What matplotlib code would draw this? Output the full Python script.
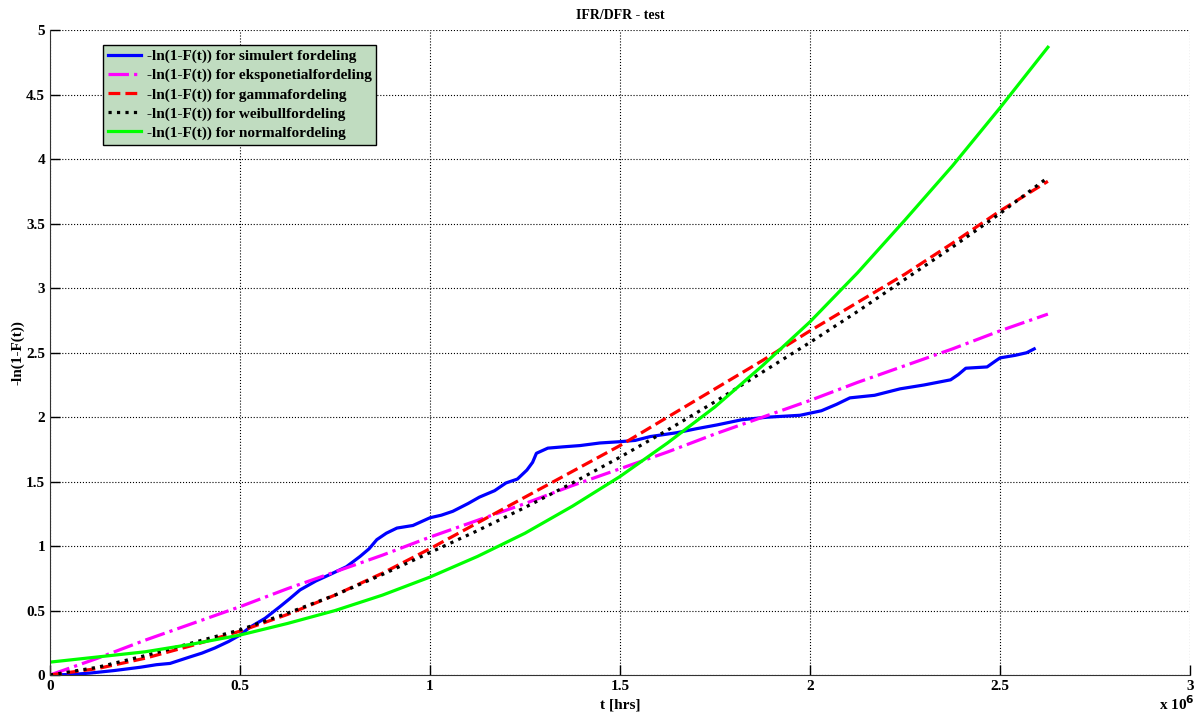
import matplotlib
matplotlib.use('Agg')
import matplotlib.pyplot as plt
import numpy as np

plt.rcParams['font.family'] = ['Liberation Serif', 'DejaVu Serif']
plt.rcParams['font.weight'] = 'bold'

# time in units of 1e6 hrs
t_sim = [0, 0.06, 0.105, 0.17, 0.237, 0.28, 0.316, 0.368, 0.40, 0.434, 0.47, 0.5,
         0.526, 0.566, 0.605, 0.63, 0.658, 0.70, 0.737, 0.78, 0.816, 0.84, 0.86,
         0.885, 0.913, 0.955, 1.0, 1.03, 1.06, 1.10, 1.13, 1.17, 1.20, 1.23, 1.255,
         1.27, 1.28, 1.31, 1.35, 1.395, 1.447, 1.5, 1.54, 1.58, 1.65, 1.70, 1.755,
         1.82, 1.887, 1.974, 2.03, 2.07, 2.105, 2.17, 2.237, 2.30, 2.37, 2.39,
         2.41, 2.466, 2.49, 2.5, 2.54, 2.57, 2.59]
F_sim = [0, 0.005, 0.015, 0.035, 0.06, 0.08, 0.09, 0.14, 0.17, 0.21, 0.26, 0.31,
         0.37, 0.44, 0.53, 0.59, 0.66, 0.73, 0.78, 0.84, 0.92, 0.98, 1.05,
         1.10, 1.14, 1.16, 1.22, 1.24, 1.27, 1.33, 1.38, 1.43, 1.49, 1.52, 1.59,
         1.65, 1.72, 1.76, 1.77, 1.78, 1.80, 1.81, 1.82, 1.85, 1.88, 1.91, 1.94,
         1.98, 2.00, 2.015, 2.05, 2.10, 2.15, 2.17, 2.22, 2.25, 2.29, 2.33,
         2.38, 2.39, 2.44, 2.46, 2.48, 2.50, 2.53]

t_fit = [0, 0.125, 0.25, 0.375, 0.5, 0.625, 0.75, 0.875, 1.0, 1.125, 1.25, 1.375,
         1.5, 1.625, 1.75, 1.875, 2.0, 2.125, 2.25, 2.375, 2.5, 2.626]
F_exp = [0, 0.13, 0.27, 0.40, 0.53, 0.67, 0.80, 0.93, 1.07, 1.20, 1.33, 1.47,
         1.60, 1.73, 1.87, 2.00, 2.13, 2.27, 2.40, 2.53, 2.67, 2.80]
F_gam = [0, 0.05, 0.13, 0.23, 0.34, 0.47, 0.62, 0.79, 0.98, 1.18, 1.38, 1.58,
         1.78, 2.00, 2.22, 2.44, 2.67, 2.89, 3.11, 3.35, 3.60, 3.83]
F_wei = [0, 0.06, 0.15, 0.25, 0.35, 0.48, 0.62, 0.78, 0.95, 1.12, 1.30, 1.49,
         1.69, 1.90, 2.12, 2.35, 2.58, 2.82, 3.07, 3.32, 3.58, 3.86]
F_nor = [0.10, 0.14, 0.18, 0.24, 0.31, 0.40, 0.50, 0.62, 0.76, 0.92, 1.10, 1.31,
         1.54, 1.80, 2.08, 2.40, 2.74, 3.12, 3.53, 3.95, 4.40, 4.87]

labels = ['-ln(1-F(t)) for simulert fordeling',
          '-ln(1-F(t)) for eksponetialfordeling',
          '-ln(1-F(t)) for gammafordeling',
          '-ln(1-F(t)) for weibullfordeling',
          '-ln(1-F(t)) for normalfordeling']

fig = plt.figure(figsize=(11.99, 7.14), dpi=100)
ax = fig.add_axes([0.0417, 0.0546, 0.9508, 0.9027])

t_sim = np.array(t_sim) * 1e6
t_fit = np.array(t_fit) * 1e6
lw = 2.3
ax.plot(t_sim, F_sim, color='#0000ff', lw=lw, label=labels[0])
ax.plot(t_fit, F_exp, color='#ff00ff', lw=lw, ls='-.', label=labels[1])
ax.plot(t_fit, F_gam, color='#ff0000', lw=lw, ls='--', label=labels[2])
ax.plot(t_fit, F_wei, color='black', lw=lw, ls=':', label=labels[3])
ax.plot(t_fit, F_nor, color='#00ff00', lw=lw, label=labels[4])

ax.set_xlim(0, 3e6)
ax.set_ylim(0, 5)
ax.set_xticks(np.arange(0, 3.01e6, 0.5e6))
ax.set_xticklabels(['0', '0.5', '1', '1.5', '2', '2.5', '3'])
ax.set_yticks(np.arange(0, 5.01, 0.5))
ax.set_yticklabels(['0', '0.5', '1', '1.5', '2', '2.5', '3', '3.5', '4', '4.5', '5'])
ax.tick_params(direction='in', length=7, labelsize=11, width=1)
ax.grid(True, ls=':', color='black', lw=0.8)
for s in ['top', 'right']:
    ax.spines[s].set_visible(False)
ax.spines['left'].set_color('#333333')
ax.spines['bottom'].set_color('#333333')

ax.set_title('IFR/DFR - test', fontsize=10, fontweight='bold', pad=8)
ax.set_xlabel('t [hrs]', fontsize=11, fontweight='bold', labelpad=4)
ax.set_ylabel('-ln(1-F(t))', fontsize=11, fontweight='bold', labelpad=1)
fig.text(0.967, 0.005, r'x 10$^{6}$', fontsize=11, fontweight='bold')

leg = ax.legend(loc='upper left', bbox_to_anchor=(0.0465, 0.978), fontsize=11,
                frameon=True, fancybox=False, handlelength=2.2, borderaxespad=0,
                borderpad=0.3, labelspacing=0.35, handletextpad=0.35)
leg.get_frame().set_facecolor('#c0dcc0')
leg.get_frame().set_edgecolor('black')
leg.get_frame().set_alpha(1)
for txt in leg.get_texts():
    txt.set_fontweight('bold')

fig.savefig('out.png', dpi=100)
